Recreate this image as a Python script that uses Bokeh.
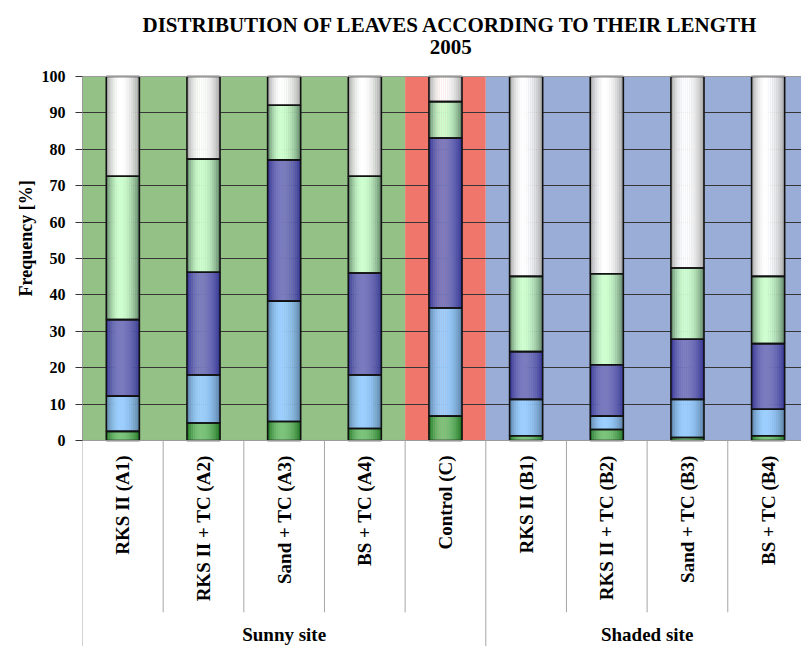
import math

from bokeh.core.properties import value
from bokeh.embed import file_html
from bokeh.models import ColumnDataSource, FixedTicker, Range1d, Title
from bokeh.plotting import figure
from bokeh.resources import INLINE

# ---------------------------------------------------------------- data
categories = [
    "RKS II (A1)", "RKS II + TC (A2)", "Sand + TC (A3)", "BS + TC (A4)",
    "Control (C)",
    "RKS II (B1)", "RKS II + TC (B2)", "Sand + TC (B3)", "BS + TC (B4)",
]
zones = ["sunny", "sunny", "sunny", "sunny", "control",
         "shaded", "shaded", "shaded", "shaded"]
sites = ["Sunny site", "Shaded site"]
site_sizes = [5, 4]

# share of leaves [%] in each length class, shortest class first
class_1 = [2.5, 4.8, 5.2, 3.3, 6.7, 1.3, 3.0, 0.8, 1.3]
class_2 = [9.7, 13.2, 33.1, 14.7, 29.7, 10.0, 3.7, 10.5, 7.3]
class_3 = [21.0, 28.2, 38.8, 28.0, 46.7, 13.1, 14.1, 16.5, 18.0]
class_4 = [39.4, 31.1, 15.0, 26.6, 10.0, 20.7, 25.0, 19.6, 18.5]
class_5 = [27.4, 22.7, 7.9, 27.4, 6.9, 54.9, 54.2, 52.6, 54.9]

y_ticks = [0, 10, 20, 30, 40, 50, 60, 70, 80, 90, 100]

title_lines = ["DISTRIBUTION OF LEAVES ACCORDING TO THEIR LENGTH", "2005"]
y_title = "Frequency [%]"

# ---------------------------------------------------------------- styling
SERIF = "Liberation Serif"
zone_colors = {"sunny": "#93C186", "control": "#F0766B", "shaded": "#99ADD6"}
# (edge colour, highlight colour) of the cylinder shading for each class
class_shades = [
    ("#136A17", "#7CC47C"),
    ("#52769A", "#9CCFFF"),
    ("#2C2C8E", "#7A7ABF"),
    ("#52745A", "#CFFFD0"),
    ("#999999", "#FFFFFF"),
]
BAR_W = 0.41
N_STRIPS = 16
LABEL_TOP = -4.1          # top end of the rotated category labels
SHORT_SEP = -47.2         # end of the separators between categories
SITE_BASE = -53.2         # baseline of the site names
TITLE_BASE = [114.2, 108.0]
TITLE_X = 4.566
Y_MIN = -56.6             # data value at the bottom edge of the canvas
Y_MAX = 100 + 76 / 3.64   # data value at the top edge of the canvas


def _rgb(h):
    h = h.lstrip("#")
    return tuple(int(h[i:i + 2], 16) for i in (0, 2, 4))


def shade(edge, hi, t):
    """Colour across a bar (t from 0 at left edge to 1 at right edge)."""
    peak = 0.42
    u = 0.5 * t / peak if t < peak else 0.5 + 0.5 * (t - peak) / (1 - peak)
    s = math.sin(math.pi * u) ** 0.7
    e, c = _rgb(edge), _rgb(hi)
    return "#%02x%02x%02x" % tuple(round(a + (b - a) * s) for a, b in zip(e, c))


n = len(categories)
x_end = 719 / 80.66

p = figure(
    width=801, height=646,
    x_range=Range1d(0, x_end), y_range=Range1d(Y_MIN, Y_MAX),
    x_axis_location=None,
    toolbar_location=None, output_backend="svg",
    min_border_left=82, min_border_right=0,
    min_border_top=0, min_border_bottom=0,
)
p.outline_line_color = None
p.background_fill_color = "white"
p.border_fill_color = "white"
p.xgrid.visible = False

# y-axis title, drawn as a side title so it can sit where it belongs
p.add_layout(Title(text=y_title, align="left", offset=350,
                   text_font=SERIF, text_font_style="bold",
                   text_font_size="18px", text_color="black",
                   standoff=6), "left")

# chart title, two centred lines
p.text(x=[TITLE_X] * len(title_lines), y=TITLE_BASE, text=title_lines,
       text_align="center", text_baseline="alphabetic",
       text_font=value(SERIF), text_font_style="bold",
       text_font_size="21px", text_color="black")

# background zones behind the bars
spans = []
for i, z in enumerate(zones):
    if spans and spans[-1][2] == z:
        spans[-1][1] = i + 1
    else:
        spans.append([i, i + 1, z])
p.quad(left=[s[0] for s in spans], right=[s[1] for s in spans],
       bottom=0, top=100, fill_color=[zone_colors[s[2]] for s in spans],
       line_color=None, level="image")

# horizontal grid
p.ygrid.ticker = FixedTicker(ticks=y_ticks[1:-1])
p.ygrid.grid_line_color = "#363636"
p.ygrid.grid_line_width = 1

# stacked bars, shaded as cylinders with narrow vertical strips
series = [class_1, class_2, class_3, class_4, class_5]
strips = dict(left=[], right=[], bottom=[], top=[], color=[])
boxes = dict(left=[], right=[], bottom=[], top=[])
base = [0.0] * n
sw = BAR_W / N_STRIPS
for k, vals in enumerate(series):
    edge, hi = class_shades[k]
    for i, v in enumerate(vals):
        b, t = base[i], base[i] + v
        x0 = i + 0.5 - BAR_W / 2
        for j in range(N_STRIPS):
            strips["left"].append(x0 + j * sw)
            strips["right"].append(x0 + (j + 1) * sw + 0.004)
            strips["bottom"].append(b)
            strips["top"].append(t)
            strips["color"].append(shade(edge, hi, (j + 0.5) / N_STRIPS))
        boxes["left"].append(x0)
        boxes["right"].append(x0 + BAR_W)
        boxes["bottom"].append(b)
        boxes["top"].append(t)
        base[i] = t

p.quad(left="left", right="right", bottom="bottom", top="top",
       fill_color="color", line_color=None, source=ColumnDataSource(strips))
p.quad(left="left", right="right", bottom="bottom", top="top",
       fill_color=None, line_color="#111111", line_width=1.6,
       source=ColumnDataSource(boxes))

# plot-area border
p.quad(left=0, right=n, bottom=0, top=100, fill_color=None,
       line_color="#9A9A9A", line_width=1)

# y axis
ax = p.yaxis[0]
ax.ticker = FixedTicker(ticks=y_ticks)
ax.bounds = (0, 100)
ax.axis_line_color = "#9A9A9A"
ax.major_tick_line_color = "#333333"
ax.major_tick_out = 7
ax.major_tick_in = 0
ax.minor_tick_line_color = None
ax.major_label_text_font = SERIF
ax.major_label_text_font_style = "bold"
ax.major_label_text_font_size = "16px"
ax.major_label_text_color = "black"
ax.major_label_standoff = 10

# category table below the plot
site_edges = [0]
for s in site_sizes:
    site_edges.append(site_edges[-1] + s)
sep_x, sep_y1 = [], []
for b in range(n + 1):
    sep_x.append(b)
    sep_y1.append(Y_MIN - 5 if b in site_edges else SHORT_SEP)
p.segment(x0=sep_x, y0=0, x1=sep_x, y1=sep_y1, line_color="#A6A6A6",
          line_width=1)

p.text(x=[i + 0.5 for i in range(n)], y=LABEL_TOP, text=categories,
       angle=math.pi / 2, text_align="right", text_baseline="middle",
       text_font=value(SERIF), text_font_style="bold",
       text_font_size="19px", text_color="black")

site_centers = [(site_edges[i] + site_edges[i + 1]) / 2 for i in range(len(sites))]
p.text(x=site_centers, y=SITE_BASE, text=sites, text_align="center",
       text_baseline="alphabetic", text_font=value(SERIF),
       text_font_style="bold", text_font_size="19px", text_color="black")

open("out.html", "w").write(file_html(p, INLINE))
